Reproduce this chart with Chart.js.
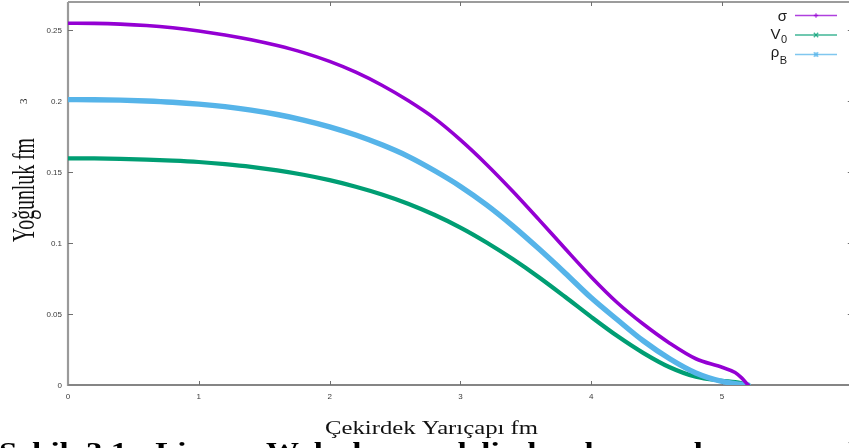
<!DOCTYPE html>
<html>
<head>
<meta charset="utf-8">
<script src="https://cdn.jsdelivr.net/npm/chart.js@4.4.1/dist/chart.umd.min.js"></script>
<style>
  html, body { margin: 0; padding: 0; background: #fff; overflow: hidden; }
  #wrap { position: relative; width: 860px; height: 448px; }
</style>
</head>
<body>
<div id="wrap"><canvas id="c" width="860" height="448"></canvas></div>
<script>
// Radial grid (fm) and density profiles
const radius = [0, 0.2, 0.4, 0.6, 0.8, 1.0, 1.2, 1.4, 1.6, 1.8, 2.0, 2.2, 2.4, 2.6, 2.8,
                3.0, 3.2, 3.4, 3.6, 3.8, 4.0, 4.2, 4.4, 4.6, 4.8, 5.0, 5.1, 5.15, 5.2];
const sigmaField = [0.2550, 0.2549, 0.2544, 0.2534, 0.2518, 0.2496, 0.2468, 0.2434, 0.2393, 0.2343,
                    0.2281, 0.2205, 0.2113, 0.2005, 0.1881, 0.1728, 0.1555, 0.1366, 0.1166, 0.0962,
                    0.0762, 0.0580, 0.0428, 0.0295, 0.0185, 0.0125, 0.0088, 0.0050, 0.0];
const vectorField = [0.1598, 0.1597, 0.1594, 0.1589, 0.1582, 0.1572, 0.1557, 0.1538, 0.1513, 0.1482,
                     0.1444, 0.1398, 0.1343, 0.1278, 0.1200, 0.1110, 0.1005, 0.0888, 0.0760, 0.0622,
                     0.0480, 0.0345, 0.0225, 0.0125, 0.0058, 0.0030, 0.0020, 0.0012, 0.0];
const baryonDensity = [0.2012, 0.2011, 0.2008, 0.2002, 0.1993, 0.1980, 0.1962, 0.1938, 0.1907, 0.1868,
                       0.1820, 0.1762, 0.1693, 0.1612, 0.1512, 0.1400, 0.1270, 0.1122, 0.0960, 0.0790,
                       0.0615, 0.0460, 0.0310, 0.0185, 0.0085, 0.0025, 0.0010, 0.0004, 0.0];

const xTickValues = [0, 1, 2, 3, 4, 5, 6];
const xTickLabels = ['0', '1', '2', '3', '4', '5', '6'];
const yTickValues = [0, 0.05, 0.1, 0.15, 0.2, 0.25];
const yTickLabels = ['0', '0.05', '0.1', '0.15', '0.2', '0.25'];

const seriesSymbols = ['σ', 'V', 'ρ'];
const seriesSubscripts = ['', '0', 'B'];
const seriesColors = ['#9400d3', '#009e73', '#56b4e9'];
const seriesMarkers = ['plus', 'cross', 'star'];

const xTitle = 'Çekirdek Yarıçapı fm';
const yTitle = 'Yoğunluk fm';
const yTitleExponent = '3';
const captionText = 'Şekil 3.1: Lineer Walecka modelinde alan ve baryon yoğunluklarının değişimi';

const SERIF = '"Liberation Serif", "Times New Roman", serif';
const SANS = '"Liberation Sans", Arial, sans-serif';

function toPoints(values) {
  return radius.map((r, i) => ({ x: r, y: values[i] }));
}

function drawMarker(ctx, kind, cx, cy, s) {
  ctx.beginPath();
  if (kind === 'plus' || kind === 'star') {
    ctx.moveTo(cx - s, cy); ctx.lineTo(cx + s, cy);
    ctx.moveTo(cx, cy - s); ctx.lineTo(cx, cy + s);
  }
  if (kind === 'cross' || kind === 'star') {
    ctx.moveTo(cx - s, cy - s); ctx.lineTo(cx + s, cy + s);
    ctx.moveTo(cx - s, cy + s); ctx.lineTo(cx + s, cy - s);
  }
  ctx.stroke();
}

const framePlugin = {
  id: 'frame',
  beforeDatasetsDraw(chart) {
    const { ctx, chartArea: a, scales: { x, y } } = chart;
    ctx.save();
    // border box
    ctx.strokeStyle = '#7c7c7c';
    ctx.lineWidth = 1.5;
    ctx.beginPath();
    ctx.moveTo(a.left, a.top); ctx.lineTo(a.right, a.top);
    ctx.moveTo(a.right, a.top); ctx.lineTo(a.right, a.bottom);
    ctx.stroke();
    ctx.strokeStyle = '#9a9a9a';
    ctx.lineWidth = 2.2;
    ctx.beginPath();
    ctx.moveTo(a.left, a.top); ctx.lineTo(a.left, a.bottom + 1);
    ctx.stroke();
    ctx.strokeStyle = '#858585';
    ctx.lineWidth = 1.8;
    ctx.beginPath();
    ctx.moveTo(a.left, a.bottom); ctx.lineTo(a.right, a.bottom);
    ctx.stroke();

    // inward tick marks
    ctx.strokeStyle = '#6f6f6f';
    ctx.lineWidth = 1;
    ctx.beginPath();
    xTickValues.forEach(v => {
      const px = Math.round(x.getPixelForValue(v)) + 0.5;
      if (v > 0) {
        ctx.moveTo(px, a.bottom); ctx.lineTo(px, a.bottom - 4);
        ctx.moveTo(px, a.top); ctx.lineTo(px, a.top + 4);
      }
    });
    yTickValues.forEach(v => {
      const py = Math.round(y.getPixelForValue(v)) + 0.5;
      if (v > 0) {
        ctx.moveTo(a.left, py); ctx.lineTo(a.left + 5, py);
        ctx.moveTo(a.right, py); ctx.lineTo(a.right - 5, py);
      }
    });
    ctx.stroke();

    // tick labels
    ctx.fillStyle = '#3a3a3a';
    ctx.font = '8px ' + SANS;
    ctx.textBaseline = 'alphabetic';
    ctx.textAlign = 'center';
    xTickValues.forEach((v, i) => {
      ctx.fillText(xTickLabels[i], x.getPixelForValue(v), a.bottom + 13.5);
    });
    ctx.textAlign = 'right';
    yTickValues.forEach((v, i) => {
      ctx.fillText(yTickLabels[i], a.left - 6, y.getPixelForValue(v) + 2.8);
    });
    ctx.restore();
  },
  afterDraw(chart) {
    const { ctx } = chart;
    ctx.save();
    ctx.fillStyle = '#111';

    // y title (rotated, condensed along the reading direction)
    ctx.save();
    ctx.font = '31px ' + SERIF;
    const yw = ctx.measureText(yTitle).width;
    ctx.translate(33.5, 242);
    ctx.rotate(-Math.PI / 2);
    ctx.scale(104 / yw, 1);
    ctx.textAlign = 'left';
    ctx.textBaseline = 'alphabetic';
    ctx.fillText(yTitle, 0, 0);
    ctx.restore();
    ctx.save();
    ctx.font = '11px ' + SERIF;
    ctx.translate(26.7, 104);
    ctx.rotate(-Math.PI / 2);
    ctx.fillText(yTitleExponent, 0, 0);
    ctx.restore();

    // x title
    ctx.save();
    ctx.font = '19px ' + SERIF;
    const xw = ctx.measureText(xTitle).width;
    ctx.translate(325, 433.5);
    ctx.scale(213 / xw, 1);
    ctx.textAlign = 'left';
    ctx.textBaseline = 'alphabetic';
    ctx.fillText(xTitle, 0, 0);
    ctx.restore();

    // caption line below the plot
    ctx.save();
    ctx.font = 'bold 26px ' + SERIF;
    ctx.translate(-1, 459.5);
    ctx.scale(1.27, 1);
    ctx.textAlign = 'left';
    ctx.textBaseline = 'alphabetic';
    if ('wordSpacing' in ctx) ctx.wordSpacing = '7px';
    ctx.fillStyle = '#000';
    ctx.fillText(captionText, 0, 0);
    ctx.restore();

    // key
    const rows = [
      { base: 21, subBase: 0, line: 15.5 },
      { base: 39.3, subBase: 42.7, line: 35 },
      { base: 56.7, subBase: 64, line: 54.5 }
    ];
    rows.forEach((r, i) => {
      ctx.textAlign = 'right';
      ctx.textBaseline = 'alphabetic';
      ctx.fillStyle = '#1a1a1a';
      let right = 787;
      if (seriesSubscripts[i]) {
        ctx.font = '11px ' + SANS;
        const sw = ctx.measureText(seriesSubscripts[i]).width;
        ctx.fillText(seriesSubscripts[i], right, r.subBase);
        right -= sw + 0.3;
      }
      ctx.font = '15px ' + SANS;
      ctx.fillText(seriesSymbols[i], right, r.base);
      ctx.strokeStyle = seriesColors[i];
      ctx.globalAlpha = 0.75;
      ctx.lineWidth = 1.3;
      ctx.beginPath();
      ctx.moveTo(795, r.line); ctx.lineTo(837, r.line);
      ctx.stroke();
      drawMarker(ctx, seriesMarkers[i], 816, r.line, 2.2);
      ctx.globalAlpha = 1;
    });
    ctx.restore();
  }
};

new Chart(document.getElementById('c'), {
  type: 'line',
  data: {
    datasets: [
      { label: 'σ', data: toPoints(sigmaField), borderColor: seriesColors[0], borderWidth: 3.6, order: 0 },
      { label: 'V0', data: toPoints(vectorField), borderColor: seriesColors[1], borderWidth: 4.2, order: 2 },
      { label: 'ρB', data: toPoints(baryonDensity), borderColor: seriesColors[2], borderWidth: 5.4, order: 1 }
    ]
  },
  options: {
    responsive: false,
    animation: false,
    devicePixelRatio: 1,
    layout: { padding: { left: 68, top: 2, right: 7.2, bottom: 63 } },
    elements: {
      point: { radius: 0, hoverRadius: 0 },
      line: { cubicInterpolationMode: 'monotone', fill: false, borderCapStyle: 'round', borderJoinStyle: 'round' }
    },
    scales: {
      x: { type: 'linear', min: 0, max: 6, display: false },
      y: { type: 'linear', min: 0, max: 0.27, display: false }
    },
    plugins: { legend: { display: false }, tooltip: { enabled: false } }
  },
  plugins: [framePlugin]
});
</script>
</body>
</html>
